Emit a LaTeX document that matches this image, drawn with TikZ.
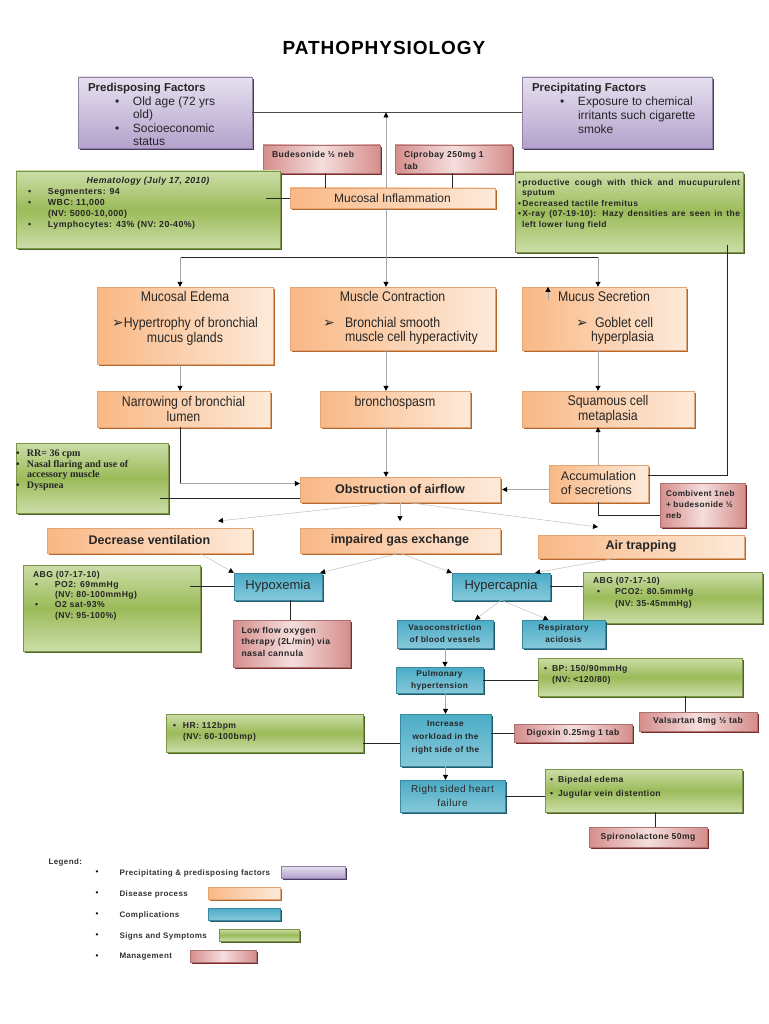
\documentclass[tikz,border=0pt]{standalone}
\usepackage{fontspec}
\setmainfont{Liberation Sans}
\newfontfamily\cambriafont{Liberation Serif}
\newfontfamily\narrowfont[FakeStretch=0.88]{Liberation Sans}
\newfontfamily\dingfont{DejaVu Sans}
\usetikzlibrary{arrows.meta,shadows}

\definecolor{purpLight}{HTML}{E6E0EF}
\definecolor{purpMid}{HTML}{B3A2CC}
\definecolor{purpDark}{HTML}{4B3A66}
\definecolor{orLight}{HTML}{FDEADA}
\definecolor{orMid}{HTML}{F9B885}
\definecolor{orDark}{HTML}{B8662A}
\definecolor{blLight}{HTML}{86C8DA}
\definecolor{blMid}{HTML}{4BACC6}
\definecolor{blDark}{HTML}{215A6A}
\definecolor{grLight}{HTML}{CCDDA8}
\definecolor{grMid}{HTML}{9BBB59}
\definecolor{grDark}{HTML}{4F6228}
\definecolor{pkLight}{HTML}{F4DEDD}
\definecolor{pkMid}{HTML}{D58E8C}
\definecolor{pkDark}{HTML}{7F2B29}

\newcommand{\fsz}[2]{\fontsize{#1}{#2}\selectfont}
\newcommand{\spaced}{\addfontfeature{LetterSpace=5}}
\newcommand{\topbox}[3]{\parbox[c][#2][t]{#1}{#3}}
\newcommand{\itembul}[1]{\makebox[#1][l]{\textbullet}}
\newcommand{\arrhead}{{\dingfont ➢}}

\begin{document}
\begin{tikzpicture}[x=1pt,y=-1pt,
factornode/.style={inner sep=0pt, draw=purpMid!80!black, line width=0.3pt, text=black!85, top color=purpLight, bottom color=purpMid, drop shadow={shadow xshift=1.6pt, shadow yshift=-1.6pt, fill=purpDark, opacity=1}},
processnode/.style={inner sep=0pt, draw=orMid!90!black, line width=0.3pt, text=black!85, left color=orMid, right color=orLight, drop shadow={shadow xshift=1.6pt, shadow yshift=-1.6pt, fill=orDark, opacity=1}},
complnode/.style={inner sep=0pt, draw=blMid!80!black, line width=0.3pt, text=black!85, top color=blMid, bottom color=blLight, drop shadow={shadow xshift=1.6pt, shadow yshift=-1.6pt, fill=blDark, opacity=1}},
signnode/.style={inner sep=0pt, draw=grMid!80!black, line width=0.3pt, text=black!85, top color=grLight, bottom color=grLight, middle color=grMid, drop shadow={shadow xshift=1.6pt, shadow yshift=-1.6pt, fill=grDark, opacity=1}},
mgmtnode/.style={inner sep=0pt, draw=pkMid!80!black, line width=0.3pt, text=black!85, left color=pkMid, right color=pkMid, middle color=pkLight, drop shadow={shadow xshift=1.6pt, shadow yshift=-1.6pt, fill=pkDark, opacity=1}},
flowarrow/.style={draw=black!35, line width=0.7pt, -{Triangle[length=5pt,width=5pt,color=black]}},
thinarrow/.style={draw=black!25, line width=0.5pt, -{Triangle[length=5pt,width=5pt,color=black]}},
link/.style={draw=black!85, line width=0.8pt}
]
\useasboundingbox (0,0) rectangle (768,1024);

\node[font=\fsz{19}{22}\bfseries\spaced] (title) at (384,48) {PATHOPHYSIOLOGY};

% factors
\node[factornode, minimum width=174pt, minimum height=71pt] (pred) at (165,112.5)
  {\topbox{164pt}{58pt}{\fsz{12}{13.4}\hspace*{5pt}{\fsz{11.5}{13}\bfseries Predisposing Factors}\\
  \hspace*{32pt}\itembul{18pt}Old age (72 yrs\\ \hspace*{50pt}old)\\
  \hspace*{32pt}\itembul{18pt}Socioeconomic\\ \hspace*{50pt}status}};
\node[factornode, minimum width=190pt, minimum height=71pt] (prec) at (617,112.5)
  {\topbox{180pt}{58pt}{\fsz{12}{14}\hspace*{5pt}{\fsz{11.5}{13}\bfseries Precipitating Factors}\\
  \hspace*{33pt}\itembul{18pt}Exposure to chemical\\ \hspace*{51pt}irritants such cigarette\\ \hspace*{51pt}smoke}};

% management on top
\node[mgmtnode, minimum width=117pt, minimum height=28pt] (bud) at (321.5,159)
  {\topbox{105pt}{16pt}{\fsz{8.6}{12}\bfseries\spaced\hspace*{3pt}Budesonide ½ neb}};
\node[mgmtnode, minimum width=117pt, minimum height=28pt] (cipro) at (453.5,159)
  {\topbox{105pt}{16pt}{\fsz{8.6}{12}\bfseries\spaced\hspace*{3pt}Ciprobay 250mg 1\\ \hspace*{3pt}tab}};

\node[processnode, minimum width=205pt, minimum height=20pt, font=\fsz{12}{13}] (mucinf) at (392.5,198) {Mucosal Inflammation};

% signs near the top
\node[signnode, minimum width=264pt, minimum height=77pt] (hema) at (148,209.5)
  {\topbox{254pt}{65pt}{\fsz{8.8}{11}\bfseries\spaced {\centering\itshape Hematology (July 17, 2010)\par}
  \hspace*{7pt}\itembul{20pt}Segmenters: 94\\
  \hspace*{7pt}\itembul{20pt}WBC: 11,000\\ \hspace*{27pt}(NV: 5000-10,000)\\
  \hspace*{7pt}\itembul{20pt}Lymphocytes: 43\% (NV: 20-40\%)}};
\node[signnode, minimum width=228pt, minimum height=80pt] (sput) at (629,212)
  {\topbox{222pt}{66pt}{\fsz{8.5}{10.5}\bfseries\spaced \makebox[\linewidth][s]{\textbullet\,productive cough with thick and mucupurulent}\\
  \hspace*{4pt}sputum\\ \textbullet\,Decreased tactile fremitus\\
  \makebox[\linewidth][s]{\textbullet\,X-ray (07-19-10): Hazy densities are seen in the}\\ \hspace*{4pt}left lower lung field}};

% disease process
\node[processnode, minimum width=176pt, minimum height=77pt] (edema) at (185,325.5)
  {\topbox{166pt}{68pt}{\centering\narrowfont\fsz{14}{15}Mucosal Edema\\[11pt]
  \arrhead Hypertrophy of bronchial\\ mucus glands}};
\node[processnode, minimum width=205pt, minimum height=63pt] (contr) at (392.5,318.5)
  {\topbox{195pt}{54pt}{\narrowfont\fsz{14}{14.5}{\centering Muscle Contraction\par}\vspace{11pt}
  \hspace*{28pt}\makebox[22pt][l]{\arrhead}Bronchial smooth\\ \hspace*{50pt}muscle cell hyperactivity}};
\node[processnode, minimum width=164pt, minimum height=63pt] (secr) at (604,318.5)
  {\topbox{154pt}{54pt}{\narrowfont\fsz{14}{14.5}{\centering Mucus Secretion\par}\vspace{11pt}
  \hspace*{49pt}\makebox[19pt][l]{\arrhead}Goblet cell\\ \hspace*{64pt}hyperplasia}};

\node[processnode, minimum width=173pt, minimum height=36pt, align=center, font=\narrowfont\fsz{14}{15}] (narrow) at (183.5,409) {Narrowing of bronchial\\lumen};
\node[processnode, minimum width=150pt, minimum height=36pt] (spasm) at (395,409)
  {\topbox{140pt}{26pt}{\centering\narrowfont\fsz{14}{15}bronchospasm}};
\node[processnode, minimum width=172pt, minimum height=36pt, align=center, font=\narrowfont\fsz{14}{15}] (squam) at (608,409) {Squamous cell\\metaplasia};

\node[processnode, minimum width=200pt, minimum height=25pt, font=\fsz{12.5}{14}\bfseries] (obstr) at (400,489.5) {Obstruction of airflow};
\node[processnode, minimum width=99pt, minimum height=37pt, align=left, font=\fsz{12.5}{14}] (accum) at (598.5,483.5) {Accumulation\\of secretions};
\node[mgmtnode, minimum width=85pt, minimum height=44pt] (combi) at (702.5,505)
  {\topbox{73pt}{28pt}{\fsz{8.2}{11}\bfseries\spaced Combivent 1neb\\+ budesonide ½\\neb}};
\node[signnode, minimum width=152pt, minimum height=70pt] (rr) at (92,478)
  {\topbox{144pt}{56pt}{\cambriafont\bfseries\fsz{10}{10.5}\hspace*{-4pt}\makebox[11pt][l]{\textbullet}RR= 36 cpm\\
  \hspace*{-4pt}\makebox[11pt][l]{\textbullet}Nasal flaring and use of\\ \hspace*{7pt}accessory muscle\\
  \hspace*{-4pt}\makebox[11pt][l]{\textbullet}Dyspnea}};

\node[processnode, minimum width=205pt, minimum height=25pt, font=\fsz{12.5}{14}\bfseries] (decv) at (149.5,540.5) {Decrease ventilation};
\node[processnode, minimum width=200pt, minimum height=25pt, font=\fsz{12.5}{14}\bfseries] (gas) at (400,540.5) {impaired gas exchange};
\node[processnode, minimum width=206pt, minimum height=23pt, font=\fsz{12.5}{14}\bfseries] (trap) at (641,546.5) {Air trapping};

% complications
\node[complnode, minimum width=88pt, minimum height=27pt, font=\fsz{13}{14}] (hypox) at (278,586.5) {Hypoxemia};
\node[complnode, minimum width=98pt, minimum height=27pt, font=\fsz{13}{14}] (hyperc) at (501,586.5) {Hypercapnia};
\node[signnode, minimum width=177pt, minimum height=86pt] (abg1) at (111.5,608)
  {\topbox{167pt}{74pt}{\fsz{8.6}{10.2}\bfseries\spaced \hspace*{5pt}ABG (07-17-10)\\
  \hspace*{7pt}\itembul{20pt}PO2: 69mmHg\\ \hspace*{27pt}(NV: 80-100mmHg)\\
  \hspace*{7pt}\itembul{20pt}O2 sat-93\%\\ \hspace*{27pt}(NV: 95-100\%)}};
\node[mgmtnode, minimum width=117pt, minimum height=47pt] (oxy) at (291.5,643.5)
  {\topbox{100pt}{33pt}{\fsz{8.6}{11.5}\bfseries\spaced Low flow oxygen\\therapy (2L/min) via\\nasal cannula}};
\node[signnode, minimum width=179pt, minimum height=51pt] (abg2) at (672.5,597.5)
  {\topbox{169pt}{41pt}{\fsz{8.6}{11.5}\bfseries\spaced \hspace*{5pt}ABG (07-17-10)\\
  \hspace*{9pt}\itembul{18pt}PCO2: 80.5mmHg\\ \hspace*{27pt}(NV: 35-45mmHg)}};

\node[complnode, minimum width=96pt, minimum height=28pt, align=center, font=\fsz{8.3}{12}\bfseries\spaced] (vaso) at (445,634) {Vasoconstriction\\of blood vessels};
\node[complnode, minimum width=83pt, minimum height=28pt, align=center, font=\fsz{8.3}{12}\bfseries\spaced] (acid) at (563.5,634) {Respiratory\\acidosis};
\node[complnode, minimum width=87pt, minimum height=26pt, align=center, font=\fsz{8.3}{12}\bfseries\spaced] (pulm) at (439.5,680) {Pulmonary\\hypertension};
\node[signnode, minimum width=204pt, minimum height=38pt] (bp) at (640,677)
  {\topbox{196pt}{24pt}{\fsz{8.6}{11.5}\bfseries\spaced \hspace*{2pt}\makebox[8pt][l]{\textbullet}BP: 150/90mmHg\\ \hspace*{10pt}(NV: <120/80)}};
\node[mgmtnode, minimum width=118pt, minimum height=19pt, font=\fsz{8.6}{10}\bfseries\spaced] (valsa) at (698,721.5) {Valsartan 8mg ½ tab};

\node[complnode, minimum width=91pt, minimum height=52pt] (work) at (445.5,740)
  {\topbox{89pt}{38pt}{\centering\fsz{8.3}{13}\bfseries\spaced Increase\\workload in the\\right side of the}};
\node[signnode, minimum width=197pt, minimum height=38pt] (hr) at (264.5,733)
  {\topbox{189pt}{22pt}{\fsz{8.6}{11.5}\bfseries\spaced \hspace*{3pt}\makebox[10pt][l]{\textbullet}HR: 112bpm\\ \hspace*{13pt}(NV: 60-100bmp)}};
\node[mgmtnode, minimum width=118pt, minimum height=18pt, font=\fsz{8.6}{10}\bfseries\spaced] (digo) at (573,733) {Digoxin 0.25mg 1 tab};

\node[complnode, minimum width=105pt, minimum height=32pt, align=center, font=\fsz{10}{14.5}\spaced] (rshf) at (452.5,796) {Right sided heart\\failure};
\node[signnode, minimum width=197pt, minimum height=43pt] (biped) at (643.5,790.5)
  {\topbox{189pt}{29pt}{\fsz{8.6}{14}\bfseries\spaced \hspace*{1pt}\makebox[8pt][l]{\textbullet}Bipedal edema\\ \hspace*{1pt}\makebox[8pt][l]{\textbullet}Jugular vein distention}};
\node[mgmtnode, minimum width=118pt, minimum height=20pt, font=\fsz{8.6}{10}\bfseries\spaced] (spiro) at (648,837) {Spironolactone 50mg};

% connectors
\coordinate (topj) at (386,112.5);
\coordinate (split) at (386,257);
\coordinate (splitL) at (180,257);
\coordinate (splitR) at (598,257);
\coordinate (bendL) at (180,483.5);
\coordinate (corner) at (727,475);
\coordinate (cbend) at (598,515);
\coordinate (stub) at (548,300);

\draw[link, draw=black!70] (pred.east) -- (prec.west);
\draw[flowarrow] (mucinf.north -| topj) -- (topj);
\draw[flowarrow, -] (mucinf.south -| split) -- (split);
\draw[link] (bud.south -| 325,0) -- (mucinf.north -| 325,0);
\draw[link] (cipro.south -| 452,0) -- (mucinf.north -| 452,0);
\draw[link] ([xshift=-14pt]hema.east |- mucinf.west) -- (mucinf.west);

\draw[link] (splitL) -- (splitR);
\draw[flowarrow] (splitL) -- (splitL |- edema.north);
\draw[flowarrow] (split) -- (split |- contr.north);
\draw[flowarrow] (splitR) -- (splitR |- secr.north);
\draw[flowarrow] (stub) -- (stub |- secr.north);

\draw[flowarrow] (edema.south -| splitL) -- (narrow.north -| splitL);
\draw[flowarrow] (contr.south -| split) -- (spasm.north -| split);
\draw[flowarrow] (secr.south -| splitR) -- (squam.north -| splitR);

\draw[link] (narrow.south -| bendL) -- (bendL);
\draw[flowarrow] (bendL) -- (bendL -| obstr.west);
\draw[flowarrow] (spasm.south -| split) -- (obstr.north -| split);
\draw[flowarrow] (accum.north -| splitR) -- (squam.south -| splitR);
\draw[flowarrow] (accum.west |- obstr.east) -- ([xshift=2pt]obstr.east);
\draw[link] ([yshift=7pt]sput.south -| corner) -- (corner) -- (corner -| accum.east);
\draw[link] (combi.west |- cbend) -- (cbend) -- (accum.south -| cbend);
\draw[link] ([xshift=-8pt]rr.east |- 0,498) -- (obstr.west |- 0,498);

\coordinate (tipA) at (218,521);
\coordinate (tipB) at (400,521);
\coordinate (tipC) at (598,527);
\draw[thinarrow] ([xshift=-5pt]obstr.south) -- (tipA);
\draw[thinarrow] (obstr.south) -- (tipB);
\draw[thinarrow] ([xshift=5pt]obstr.south) -- (tipC);

\draw[thinarrow] ([xshift=50pt]decv.south) -- (hypox.north west);
\draw[thinarrow] (gas.south) -- ([xshift=-2pt]hypox.north east);
\draw[thinarrow] (gas.south) -- (hyperc.north west);
\draw[thinarrow] ([xshift=-25pt]trap.south) -- ([xshift=-15pt]hyperc.north east);

\draw[link] ([xshift=-10pt]abg1.east |- hypox.west) -- (hypox.west);
\draw[link] (hypox.south -| 290,0) -- (oxy.north -| 290,0);
\draw[link] (hyperc.east) -- (abg2.west |- hyperc.east);
\draw[thinarrow] (hyperc.south) -- ([xshift=30pt]vaso.north);
\draw[thinarrow] (hyperc.south) -- ([xshift=-15pt]acid.north);
\draw[flowarrow] (vaso.south) -- (vaso.south |- pulm.north);
\draw[link] (pulm.east) -- (bp.west |- pulm.east);
\draw[link] (bp.south -| 685,0) -- (valsa.north -| 685,0);
\draw[flowarrow] (pulm.south -| work.north) -- (work.north);
\draw[link] (hr.east |- 0,743) -- (work.west |- 0,743);
\draw[link] (work.east |- digo.west) -- (digo.west);
\draw[flowarrow] (work.south) -- (work.south |- rshf.north);
\draw[link] (rshf.east) -- (biped.west |- rshf.east);
\draw[link] (biped.south -| 655,0) -- (spiro.north -| 655,0);

% legend
\node[anchor=west, font=\fsz{8}{10}\bfseries\spaced, text=black!80] (legend) at (45,862) {Legend:};
\foreach \y [count=\i] in {873,894,915,936,957}
  \node[font=\fsz{8}{9}] (lb\i) at (97,\y) {\textbullet};
\node[anchor=west, font=\fsz{8}{10}\bfseries\spaced, text=black!80] (lt1) at (116,873) {Precipitating \& predisposing factors};
\node[anchor=west, font=\fsz{8}{10}\bfseries\spaced, text=black!80] (lt2) at (116,894) {Disease process};
\node[anchor=west, font=\fsz{8}{10}\bfseries\spaced, text=black!80] (lt3) at (116,915) {Complications};
\node[anchor=west, font=\fsz{8}{10}\bfseries\spaced, text=black!80] (lt4) at (116,936) {Signs and Symptoms};
\node[anchor=west, font=\fsz{8}{10}\bfseries\spaced, text=black!80] (lt5) at (116,957) {Management};
\node[factornode, minimum width=64pt, minimum height=12pt] (ls1) at (313,872) {};
\node[processnode, minimum width=72pt, minimum height=12pt] (ls2) at (244,893) {};
\node[complnode, minimum width=72pt, minimum height=12pt] (ls3) at (244,914) {};
\node[signnode, minimum width=80pt, minimum height=12pt] (ls4) at (259,935) {};
\node[mgmtnode, minimum width=66pt, minimum height=12pt] (ls5) at (223,956) {};
\end{tikzpicture}
\end{document}
